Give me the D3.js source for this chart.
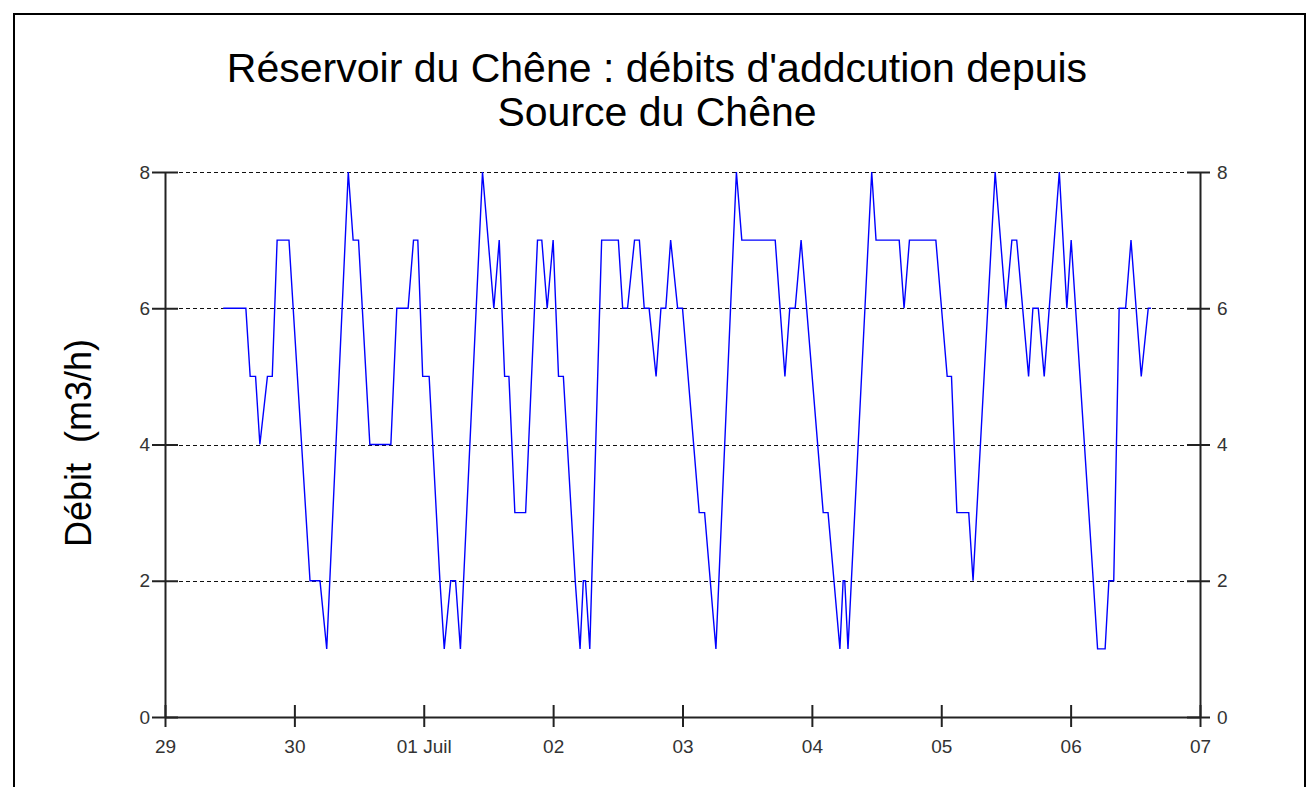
<!DOCTYPE html>
<html>
<head>
    <meta charset="utf-8">
    <title>Réservoir du Chêne</title>
    <script type="text/javascript" src="https://cdn.jsdelivr.net/npm/d3@7"></script>
    <style>
        body { margin: 0; background: white; }
        text { font-family: "Liberation Sans", Arial, sans-serif; }
    </style>
</head>
<body>
    <script type="text/javascript">
        // heures depuis le 29 à 00:00, et débit (m3/h)
        var heures = [10.8, 15.0, 15.8, 16.8, 17.6, 19.0, 19.9, 20.8, 23.0, 26.9, 28.75, 30.0, 34.0,
                      34.9, 35.9, 38.0, 41.9, 43.0, 45.1, 46.1, 46.9, 47.8, 49.0, 51.0, 51.8, 53.0, 53.9, 54.8,
                      58.9, 61.0, 62.0, 62.5, 63.0, 63.8, 64.9, 66.9, 69.1, 69.9, 70.9, 72.0, 73.0, 73.9,
                      76.1, 77.0, 77.6, 78.0, 78.8, 81.0, 84.1, 84.9, 85.8, 87.1, 88.0, 88.9, 89.8, 91.1,
                      92.0, 92.9, 93.8, 95.1, 96.0, 99.1, 100.1, 102.2, 106.0, 107.0, 113.2, 115.0, 115.9,
                      116.9, 118.0, 122.1, 123.0, 125.2, 125.8, 126.1, 126.7, 131.1, 131.9, 136.2, 137.1,
                      138.1, 143.0, 145.1, 145.9, 146.9, 149.1, 149.9, 154.0, 156.0, 157.1, 158.0, 160.2,
                      161.0, 162.0, 163.1, 165.9, 167.3, 168.1, 172.2, 173.0, 174.4, 175.1, 176.0, 177.0,
                      178.2, 179.2, 181.1, 182.4, 182.9];
        var debits = [6, 6, 5, 5, 4, 5, 5, 7, 7, 2, 2, 1, 8,
                      7, 7, 4, 4, 6, 6, 7, 7, 5, 5, 2, 1, 2, 2, 1,
                      8, 6, 7, 6, 5, 5, 3, 3, 7, 7, 6, 7, 5, 5,
                      2, 1, 2, 2, 1, 7, 7, 6, 6, 7, 7, 6, 6, 5,
                      6, 6, 7, 6, 6, 3, 3, 1, 8, 7, 7, 5, 6,
                      6, 7, 3, 3, 1, 2, 2, 1, 8, 7, 7, 6,
                      7, 7, 5, 5, 3, 3, 2, 8, 6, 7, 7, 5,
                      6, 6, 5, 8, 6, 7, 2, 1, 1, 2, 2, 6,
                      6, 7, 5, 6, 6];
        var yTicks = [0, 2, 4, 6, 8];
        var titre = ["Réservoir du Chêne : débits d'addcution depuis", "Source du Chêne"];

        var width = 1307;
        var height = 787;
        var margin = {left: 165, right: 107, top: 172, bottom: 70};

        var debut = new Date(2009, 5, 29);
        var fin = new Date(2009, 6, 7);
        var data = heures.map(function(h, i) {
            return {date: debut.getTime() + h * 3600000, v: debits[i]};
        });

        var svg = d3.select('body').append('svg')
                    .attr('width', width)
                    .attr('height', height);

        svg.append('rect')
            .attr('x', 14).attr('y', 14)
            .attr('width', 1291).attr('height', 820)
            .attr('fill', 'none')
            .attr('stroke', 'black')
            .attr('stroke-width', 2);

        var x = d3.scaleTime()
            .domain([debut, fin])
            .range([margin.left, width - margin.right]);
        var y = d3.scaleLinear()
            .domain([0, 8])
            .range([height - margin.bottom, margin.top]);

        // lignes de grille pointillées
        svg.append('g').selectAll('line')
            .data(yTicks.filter(function(d) { return d > 0; }))
            .enter().append('line')
            .attr('x1', x(debut)).attr('x2', x(fin))
            .attr('y1', function(d) { return y(d) + 0.5; })
            .attr('y2', function(d) { return y(d) + 0.5; })
            .attr('stroke', '#111')
            .attr('stroke-dasharray', '4,3')
            .attr('shape-rendering', 'crispEdges');

        var fmt = function(d) {
            if (d.getDate() === 1) return '01 Juil';
            return d3.timeFormat('%d')(d);
        };

        var xAxis = svg.append('g')
            .attr('transform', 'translate(0,' + y(0) + ')')
            .call(d3.axisBottom(x).ticks(d3.timeDay.every(1)).tickFormat(fmt).tickSize(0).tickPadding(23));
        xAxis.selectAll('.tick line').attr('y1', -12).attr('y2', 10);

        var leftAxis = svg.append('g')
            .attr('transform', 'translate(' + x(debut) + ',0)')
            .call(d3.axisLeft(y).tickValues(yTicks).tickFormat(d3.format('d')).tickSize(0).tickPadding(15));
        leftAxis.selectAll('.tick line').attr('x1', -13).attr('x2', 13);

        var rightAxis = svg.append('g')
            .attr('transform', 'translate(' + x(fin) + ',0)')
            .call(d3.axisRight(y).tickValues(yTicks).tickFormat(d3.format('d')).tickSize(0).tickPadding(17));
        rightAxis.selectAll('.tick line').attr('x1', -13).attr('x2', 10);

        svg.selectAll('.domain').attr('stroke', '#222').attr('stroke-width', 2);
        svg.selectAll('.tick line').attr('stroke', '#222').attr('stroke-width', 2);
        svg.selectAll('.tick text')
            .attr('fill', '#333')
            .style('font-size', '19px')
            .style('font-family', '"Liberation Sans", Arial, sans-serif');

        var line = d3.line()
            .x(function(d) { return x(d.date); })
            .y(function(d) { return y(d.v); });

        svg.append('path')
            .datum(data)
            .attr('d', line)
            .attr('fill', 'none')
            .attr('stroke', '#0000ff')
            .attr('stroke-width', 1.4);

        svg.append('g').selectAll('text')
            .data(titre).enter()
            .append('text')
            .attr('x', 657)
            .attr('y', function(d, i) { return 82 + i * 44; })
            .attr('text-anchor', 'middle')
            .style('font-size', '41px')
            .attr('fill', '#000')
            .text(function(d) { return d; });

        svg.append('text')
            .attr('transform', 'translate(91,' + 443 + ') rotate(-90)')
            .attr('text-anchor', 'middle')
            .style('font-size', '36px')
            .style('white-space', 'pre')
            .attr('fill', '#000')
            .text('Débit  (m3/h)');
    </script>
</body>
</html>
